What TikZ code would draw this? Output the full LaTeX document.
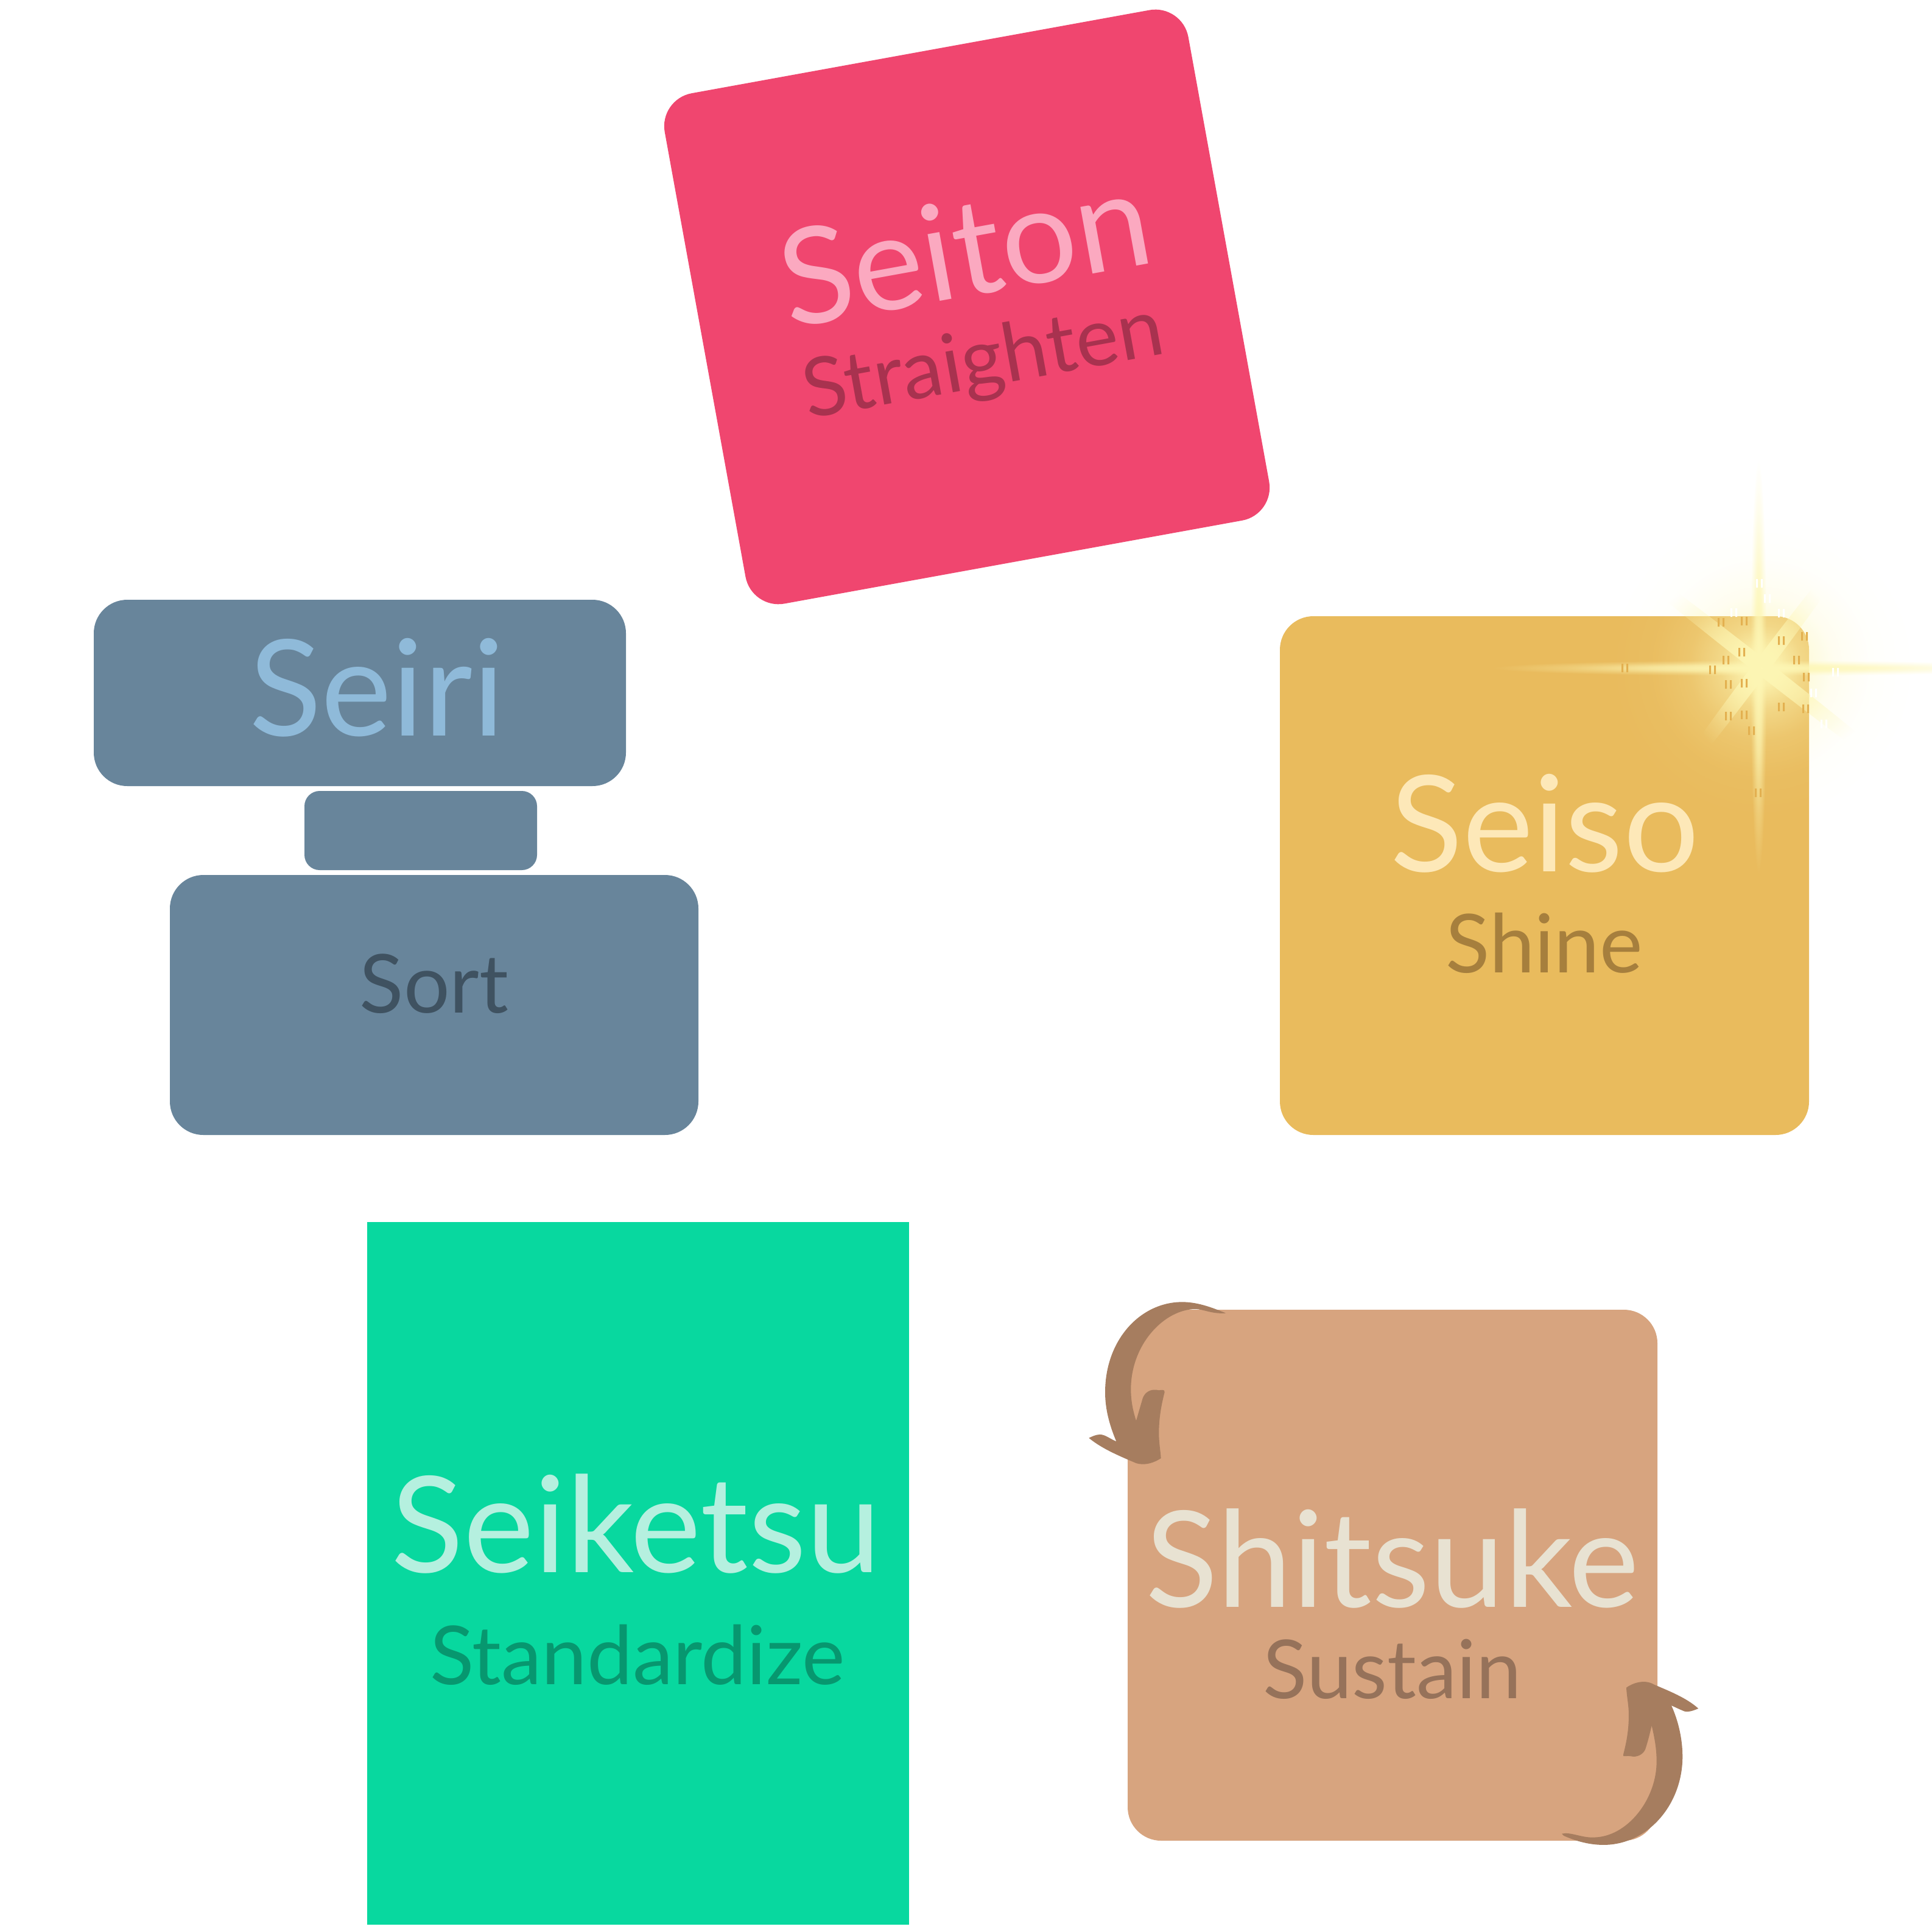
\documentclass[tikz,border=0pt]{standalone}
\usepackage{fontspec}
\setmainfont{Lato}
\usetikzlibrary{fadings}

\definecolor{sortblue}{HTML}{68859B}
\definecolor{seiriink}{HTML}{8FBAD9}
\definecolor{sortink}{HTML}{3F5261}
\definecolor{seitonred}{HTML}{F0466F}
\definecolor{seitonink}{HTML}{FBA9C0}
\definecolor{straightenink}{HTML}{A8324F}
\definecolor{seisogold}{HTML}{E9BB5D}
\definecolor{seisoink}{HTML}{FDE8B8}
\definecolor{shineink}{HTML}{A67F3D}
\definecolor{seiketsugreen}{HTML}{08D89F}
\definecolor{seiketsuink}{HTML}{B5F0DF}
\definecolor{standardink}{HTML}{07976F}
\definecolor{shitsuketan}{HTML}{D7A47F}
\definecolor{shitsukeink}{HTML}{E8E2D2}
\definecolor{sustainink}{HTML}{96725A}
\definecolor{arrowbrown}{HTML}{A67D5F}
\definecolor{glowyellow}{HTML}{FDF6B4}
\definecolor{glintdark}{HTML}{E3B050}

\pgfdeclareradialshading{softglow}{\pgfpointorigin}{color(0bp)=(pgftransparent!0); color(2bp)=(pgftransparent!12); color(4.5bp)=(pgftransparent!50); color(8bp)=(pgftransparent!80); color(12bp)=(pgftransparent!95); color(17bp)=(pgftransparent!100); color(50bp)=(pgftransparent!100)}
\pgfdeclarefading{glowfade}{\pgfuseshading{softglow}}
\pgfdeclareradialshading{softray}{\pgfpointorigin}{color(0bp)=(pgftransparent!0); color(7bp)=(pgftransparent!30); color(12bp)=(pgftransparent!70); color(17bp)=(pgftransparent!100); color(50bp)=(pgftransparent!100)}
\pgfdeclarefading{rayfade}{\pgfuseshading{softray}}

\tikzset{
    card/.style={inner sep=0pt, rounded corners=0.55cm},
    bigword/.style={anchor=base, font=\fontsize{62.5}{62.5}\selectfont},
    smallword/.style={anchor=base, font=\fontsize{38}{38}\selectfont},
    glow/.style={fill=glowyellow, path fading=glowfade},
    ray/.style={fill=glowyellow, path fading=rayfade}
}

\begin{document}
\begin{tikzpicture}[y=-1cm]
        \useasboundingbox (0,0) rectangle (31.73,31.73);

        % sort
        \node[card, fill=sortblue, minimum width=8.74cm, minimum height=3.06cm] (seiriTop) at (5.91,11.38) {};
        \node[card, fill=sortblue, rounded corners=0.25cm, minimum width=3.82cm, minimum height=1.30cm] (seiriMid) at (6.91,13.64) {};
        \node[card, fill=sortblue, minimum width=8.68cm, minimum height=4.27cm] (seiriBase) at (7.13,16.505) {};
        \node[bigword, text=seiriink] (seiri) at (6.19,12.08) {Seiri};
        \node[smallword, text=sortink] (sort) at (7.13,16.63) {Sort};

        % straighten
        \node[card, fill=seitonred, rotate=10.3, minimum width=8.74cm, minimum height=8.52cm] (seitonBox) at (15.88,5.04) {};
        \node[bigword, text=seitonink, rotate=10.3] (seiton) at (15.98,4.85) {Seiton};
        \node[smallword, text=straightenink, rotate=10.3] (straighten) at (16.22,6.34) {Straighten};

        % shine
        \node[card, fill=seisogold, minimum width=8.69cm, minimum height=8.52cm] (seisoBox) at (25.365,14.38) {};
        \node[bigword, text=seisoink] (seiso) at (25.37,14.31) {Seiso};
        \node[smallword, text=shineink] (shine) at (25.36,15.97) {Shine};

        % sparkle on the corner
        \fill[glow] (28.93,10.95) circle (3.7);
        \fill[ray] (28.88,10.95) ellipse (0.2 and 5.0);
        \fill[ray] (28.93,10.97) ellipse (6.5 and 0.19);
        \fill[ray, rotate around={-38:(28.93,10.95)}] (28.93,10.95) ellipse (3.8 and 0.13);
        \fill[ray, rotate around={53:(28.93,10.95)}] (28.93,10.95) ellipse (3.05 and 0.13);
        \foreach \gx/\gy in {28.27/10.22,28.65/10.20,29.26/10.52,29.64/10.45,28.61/10.71,28.35/10.84,29.51/10.84,26.69/10.97,28.13/11.00,28.39/11.24,28.65/11.22,29.67/11.12,29.26/11.61,29.66/11.64,28.39/11.76,28.65/11.74,28.77/12.00,28.88/13.02}
            \fill[glintdark] (\gx-0.06,\gy-0.07) rectangle +(0.03,0.14) (\gx+0.02,\gy-0.07) rectangle +(0.03,0.14);
        \foreach \gx/\gy in {28.90/9.58,29.03/9.83,28.48/10.06,29.26/10.07,30.15/11.04,29.79/11.38,29.96/11.89}
            \fill[white] (\gx-0.06,\gy-0.07) rectangle +(0.03,0.14) (\gx+0.02,\gy-0.07) rectangle +(0.03,0.14);

        % standardize
        \node[inner sep=0pt, fill=seiketsugreen, minimum width=8.90cm, minimum height=11.54cm] (seiketsuBox) at (10.48,25.84) {};
        \node[bigword, text=seiketsuink] (seiketsu) at (10.45,25.82) {Seiketsu};
        \node[smallword, text=standardink] (standardize) at (10.47,27.66) {Standardize};

        % sustain
        \node[card, fill=shitsuketan, minimum width=8.70cm, minimum height=8.72cm] (shitsukeBox) at (22.87,25.87) {};
        \node[bigword, text=shitsukeink] (shitsuke) at (22.87,26.39) {Shitsuke};
        \node[smallword, text=sustainink] (sustain) at (22.87,27.89) {Sustain};

        \begin{scope}[shift={(17.5,21)}, x=0.03333mm, y=-0.03333mm]
            \fill[arrowbrown] (790,170) .. controls (740,150) and (660,115) .. (575,115)
                .. controls (370,115) and (195,300) .. (195,560)
                .. controls (195,650) and (220,730) .. (250,802)
                .. controls (220,790) and (195,768) .. (170,768)
                .. controls (150,768) and (130,778) .. (115,785)
                .. controls (180,840) and (280,880) .. (345,908)
                .. controls (390,925) and (440,905) .. (470,885)
                .. controls (468,850) and (460,810) .. (460,760)
                .. controls (460,680) and (475,610) .. (488,560)
                .. controls (490,545) and (475,548) .. (460,550)
                .. controls (420,540) and (390,560) .. (380,590)
                .. controls (370,625) and (358,665) .. (348,700)
                .. controls (335,660) and (322,610) .. (322,545)
                .. controls (322,320) and (490,150) .. (640,150)
                .. controls (680,150) and (720,175) .. (790,170) -- cycle;
        \end{scope}
        \begin{scope}[shift={(25,27.2)}, x=0.03333mm, y=-0.03333mm]
            \fill[arrowbrown] (195,875) .. controls (240,865) and (290,895) .. (350,893)
                .. controls (520,893) and (665,700) .. (662,515)
                .. controls (662,450) and (650,395) .. (638,342)
                .. controls (628,385) and (618,425) .. (606,460)
                .. controls (595,485) and (565,500) .. (535,493)
                .. controls (520,488) and (490,500) .. (498,485)
                .. controls (512,430) and (525,370) .. (525,290)
                .. controls (525,240) and (515,200) .. (513,155)
                .. controls (540,135) and (600,110) .. (650,140)
                .. controls (720,170) and (810,205) .. (868,258)
                .. controls (850,265) and (825,277) .. (800,272)
                .. controls (775,262) and (755,252) .. (735,243)
                .. controls (770,320) and (790,410) .. (790,495)
                .. controls (790,730) and (620,930) .. (400,930)
                .. controls (320,930) and (250,905) .. (205,885) -- cycle;
        \end{scope}
    \end{tikzpicture}
\end{document}
